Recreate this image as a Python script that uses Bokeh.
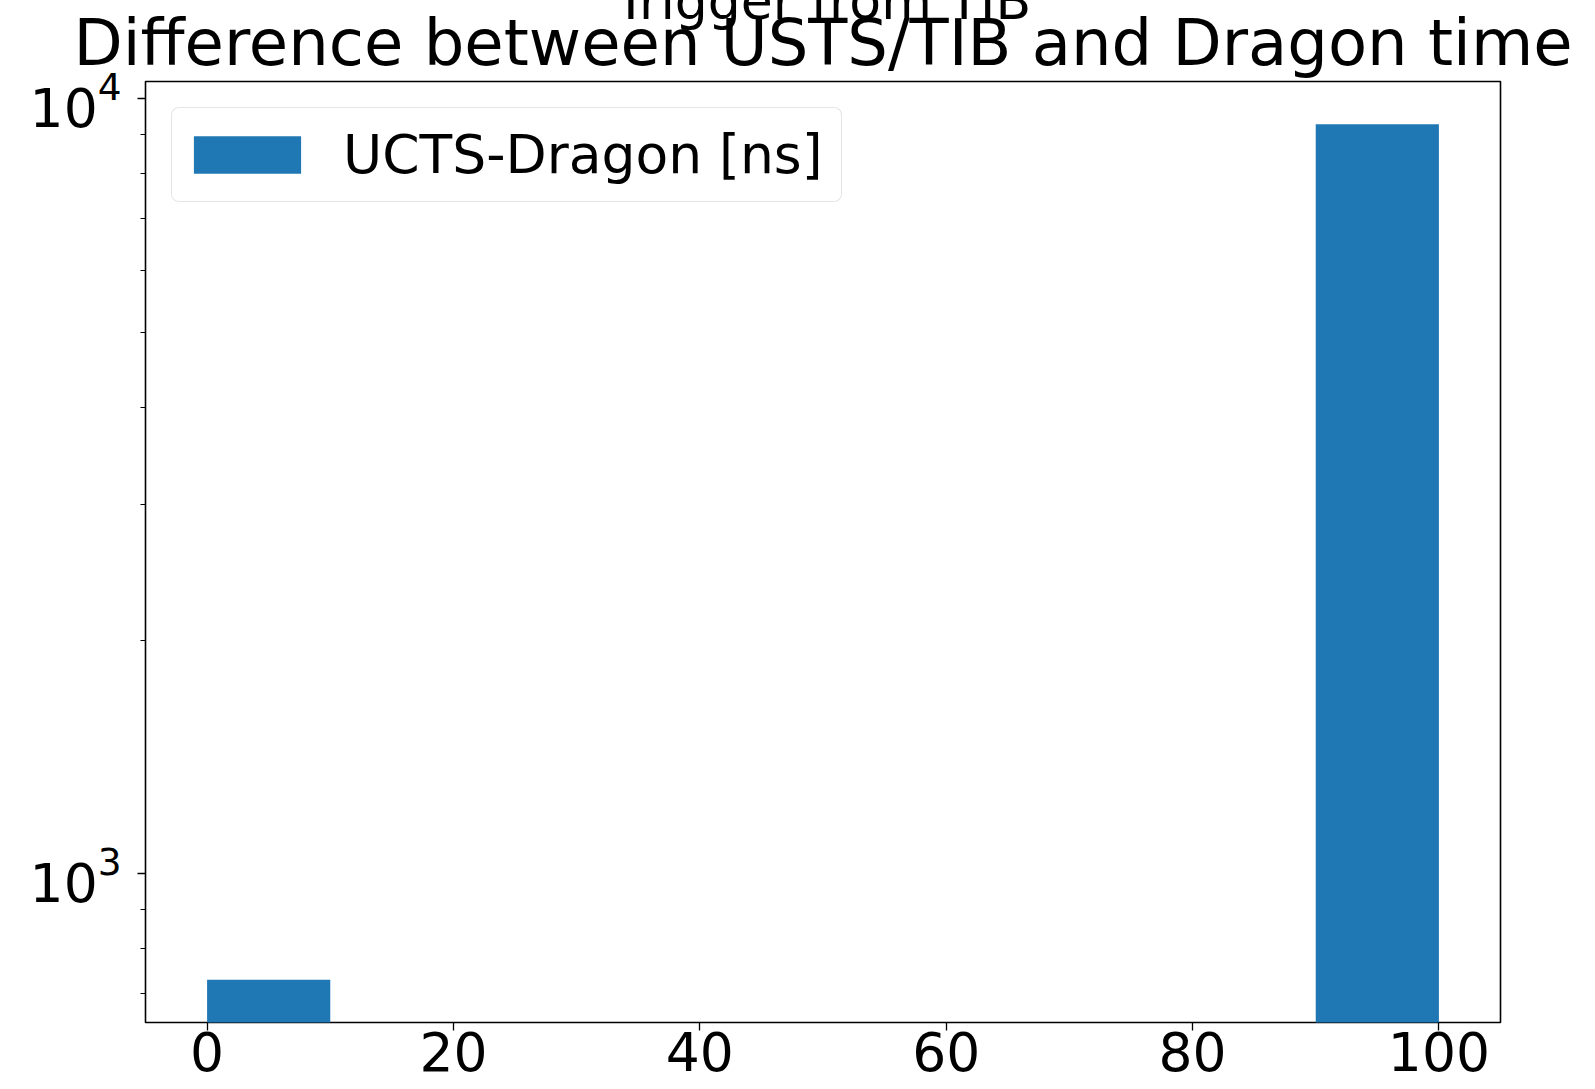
import numpy as np
from bokeh.plotting import figure
from bokeh.models import (ColumnDataSource, Range1d, SingleIntervalTicker, FixedTicker,
                          Title, LogTickFormatter)
from bokeh.embed import file_html
from bokeh.resources import INLINE

# ---- data ----
bin_edges = [0, 10, 20, 30, 40, 50, 60, 70, 80, 90, 100]
counts = [730, 0, 0, 0, 0, 0, 0, 0, 0, 9270]
series_label = "UCTS-Dragon [ns]"
title_text = "Difference between USTS/TIB and Dragon time"
suptitle_text = "Trigger from TIB"
x_tick_interval = 20
y_major_ticks = [1000, 10000]
y_minor_ticks = [700, 800, 900, 2000, 3000, 4000, 5000, 6000, 7000, 8000, 9000]

FONT = "DejaVu Sans"
BLUE = "#1f77b4"

left = np.array(bin_edges[:-1], dtype=float)
right = np.array(bin_edges[1:], dtype=float)
top = np.array(counts, dtype=float)
mask = top > 0
src = ColumnDataSource(dict(left=left[mask], right=right[mask], top=top[mask],
                            bottom=np.ones(mask.sum())))

# matplotlib-like 5% margins
xspan = bin_edges[-1] - bin_edges[0]
x0, x1 = bin_edges[0] - 0.05 * xspan, bin_edges[-1] + 0.05 * xspan
lmin, lmax = np.log10(top[mask].min()), np.log10(top[mask].max())
lspan = lmax - lmin
ly0, ly1 = lmin - 0.05 * lspan, lmax + 0.05 * lspan
y0, y1 = 10 ** ly0, 10 ** ly1

W, H = 1595, 1089
MB_L, MB_R, MB_T, MB_B = 145, 95, 81, 67

p = figure(width=W, height=H, y_axis_type="log", output_backend="svg", title=None,
           toolbar_location=None, x_range=Range1d(x0, x1), y_range=Range1d(y0, y1),
           min_border_left=MB_L, min_border_right=MB_R, min_border_top=MB_T,
           min_border_bottom=MB_B)
p.background_fill_color = "white"
p.border_fill_color = "white"
p.outline_line_color = "black"
p.outline_line_width = 1.6
p.xgrid.visible = False
p.ygrid.visible = False

p.quad(left="left", right="right", top="top", bottom="bottom", source=src,
       fill_color=BLUE, line_color=None, legend_label=series_label)

for ax in (p.xaxis[0], p.yaxis[0]):
    ax.axis_line_color = None
    ax.major_tick_line_color = "black"
    ax.minor_tick_line_color = "black"
    ax.major_tick_line_width = 1.3
    ax.minor_tick_line_width = 1.0
    ax.major_tick_in = 0
    ax.minor_tick_in = 0
    ax.major_tick_out = 8
    ax.minor_tick_out = 5
    ax.major_label_text_font = FONT
    ax.major_label_text_font_size = "53.5px"
    ax.major_label_text_color = "black"

p.xaxis.ticker = SingleIntervalTicker(interval=x_tick_interval, num_minor_ticks=0)
p.xaxis.major_label_standoff = 1
p.yaxis.ticker = FixedTicker(ticks=y_major_ticks, minor_ticks=y_minor_ticks)
p.yaxis.formatter = LogTickFormatter()
p.yaxis.major_label_standoff = 16

# titles: first added sits next to the plot, the suptitle goes above it and
# is pushed mostly past the top edge, as in the reference
main_title = Title(text=title_text, text_font=FONT, text_font_size="64px",
                   text_font_style="normal", text_color="black", align="center",
                   vertical_align="bottom", standoff=2.5)
p.add_layout(main_title, "above")
sup_title = Title(text=suptitle_text, text_font=FONT, text_font_size="52px",
                  text_font_style="normal", text_color="black", align="center",
                  vertical_align="top", standoff=-60)
p.add_layout(sup_title, "above")

leg = p.legend[0]
leg.location = "top_left"
leg.margin = 26
leg.padding = 8
leg.label_standoff = 29
leg.glyph_width = 134
leg.glyph_height = 47
leg.label_height = 77
leg.label_width = 490
leg.label_text_font = FONT
leg.label_text_font_size = "53.5px"
leg.label_text_color = "black"
leg.border_line_color = "#cccccc"
leg.border_line_width = 1.5
leg.background_fill_alpha = 0.8
if "border_radius" in leg.properties():
    leg.border_radius = 8

open("out.html", "w").write(file_html(p, INLINE))
